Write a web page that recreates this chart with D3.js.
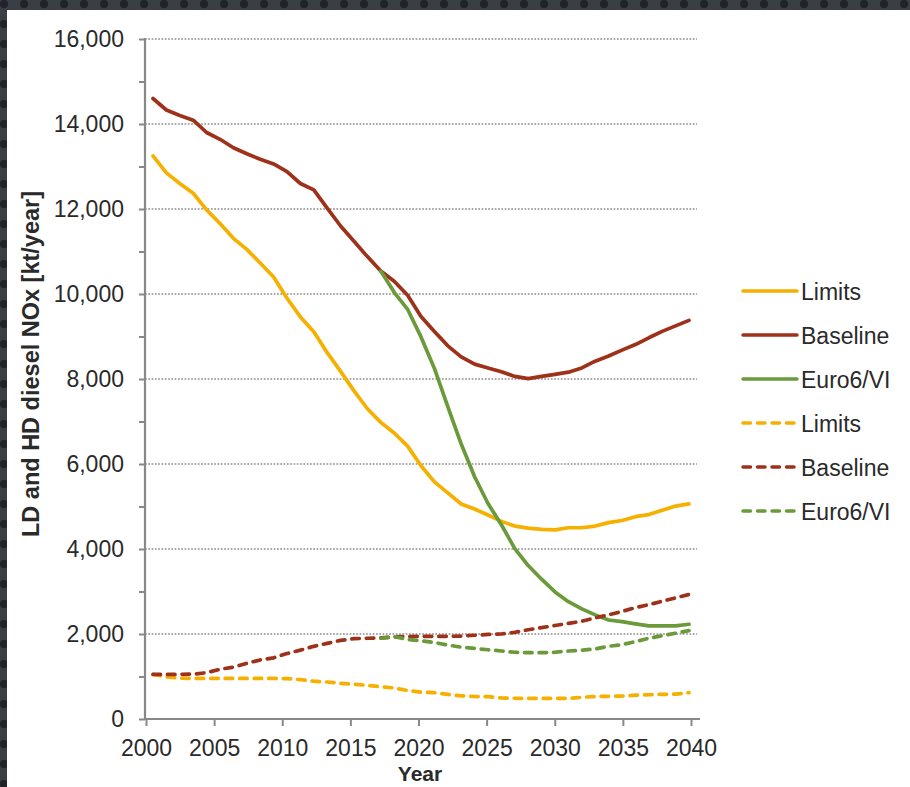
<!DOCTYPE html>
<html>
<head>
<meta charset="utf-8">
<script src="https://cdn.jsdelivr.net/npm/d3@7"></script>
<style>
  body { margin: 0; background: #fff; }
  svg { display: block; font-family: "Liberation Sans", Arial, Helvetica, sans-serif; }
</style>
</head>
<body>
<div id="chart"></div>
<script>
// Years on the category axis
var years = d3.range(2000, 2041);
var tickYears = [2000, 2005, 2010, 2015, 2020, 2025, 2030, 2035, 2040];
var yTicks = d3.range(0, 16001, 1000);

// Solid series (kt/year)
var limitsSolid = [13250, 12850, 12600, 12370, 11980, 11660, 11310, 11050, 10730, 10400,
  9900, 9460, 9110, 8620, 8180, 7720, 7300, 6980, 6730, 6420,
  5960, 5580, 5320, 5060, 4940, 4800, 4650, 4540, 4490, 4460,
  4450, 4500, 4500, 4540, 4620, 4670, 4760, 4810, 4910, 5010, 5060];
var baselineSolid = [14600, 14330, 14200, 14090, 13800, 13640, 13440, 13300, 13170, 13060,
  12880, 12600, 12450, 12020, 11600, 11240, 10880, 10540, 10300, 9970,
  9470, 9120, 8780, 8520, 8350, 8260, 8170, 8060, 8010, 8060,
  8110, 8160, 8260, 8420, 8540, 8680, 8810, 8970, 9120, 9250, 9380];
var euroSolid = [null, null, null, null, null, null, null, null, null, null,
  null, null, null, null, null, null, null, 10540, 10040, 9640,
  8990, 8250, 7350, 6470, 5700, 5070, 4570, 4010, 3610, 3290,
  2990, 2760, 2590, 2450, 2330, 2290, 2240, 2190, 2190, 2190, 2230];

// Dashed series (kt/year)
var limitsDashed = [1050, 990, 960, 955, 955, 955, 955, 955, 955, 955,
  950, 925, 890, 870, 840, 820, 790, 760, 730, 670,
  630, 620, 580, 545, 530, 525, 495, 488, 486, 486,
  486, 486, 510, 530, 533, 540, 560, 570, 580, 585, 620];
var baselineDashed = [1050, 1050, 1050, 1055, 1090, 1170, 1220, 1310, 1390, 1440,
  1540, 1620, 1710, 1780, 1850, 1890, 1900, 1910, 1930, 1940,
  1945, 1945, 1945, 1950, 1970, 1990, 2000, 2040, 2100, 2150,
  2200, 2250, 2300, 2380, 2450, 2530, 2620, 2690, 2770, 2850, 2930];
var euroDashed = [null, null, null, null, null, null, null, null, null, null,
  null, null, null, null, null, null, null, 1900, 1940, 1870,
  1840, 1800, 1740, 1690, 1660, 1630, 1600, 1570, 1560, 1560,
  1570, 1600, 1620, 1650, 1710, 1750, 1820, 1900, 1960, 2020, 2080];

var legendNames = ["Limits", "Baseline", "Euro6/VI", "Limits", "Baseline", "Euro6/VI"];

var colors = { limits: "#f5b000", baseline: "#9e3119", euro: "#6a9a3a" };

var series = [
  { name: legendNames[0], values: limitsSolid, color: colors.limits, dashed: false },
  { name: legendNames[1], values: baselineSolid, color: colors.baseline, dashed: false },
  { name: legendNames[2], values: euroSolid, color: colors.euro, dashed: false },
  { name: legendNames[3], values: limitsDashed, color: colors.limits, dashed: true },
  { name: legendNames[4], values: baselineDashed, color: colors.baseline, dashed: true },
  { name: legendNames[5], values: euroDashed, color: colors.euro, dashed: true }
];

var w = 910, h = 787;
var svg = d3.select("#chart").append("svg").attr("width", w).attr("height", h);

// dark dotted frame on top and left
var defs = svg.append("defs");
var pat = defs.append("pattern").attr("id", "dots")
  .attr("width", 20).attr("height", 20).attr("patternUnits", "userSpaceOnUse");
pat.append("rect").attr("width", 20).attr("height", 20).attr("fill", "#3a3e45");
pat.append("circle").attr("cx", 4).attr("cy", 4).attr("r", 4.2).attr("fill", "#202327");
svg.append("rect").attr("width", w).attr("height", h).attr("fill", "url(#dots)");
svg.append("rect").attr("x", 7).attr("y", 10).attr("width", w - 7).attr("height", h - 10).attr("fill", "#fff");

// scales
var x = d3.scaleLinear().domain([2000, 2040]).range([153, 689]);
var xTick = d3.scaleLinear().domain([2000, 2040]).range([146, 691]);
var y = d3.scaleLinear().domain([0, 16000]).range([719, 39]);
var plotLeft = 145, plotRight = 698;

// dotted gridlines
svg.append("g").selectAll("line")
  .data(yTicks.filter(function(d) { return d > 0 && d % 2000 === 0; }))
  .enter().append("line")
  .attr("x1", plotLeft).attr("x2", plotRight - 1)
  .attr("y1", function(d) { return y(d); }).attr("y2", function(d) { return y(d); })
  .attr("stroke", "#8c8c8c").attr("stroke-width", 1.6).attr("stroke-dasharray", "1.7,1.6");

// y axis
var yAxis = d3.axisLeft(y).tickValues(yTicks).tickSize(6).tickPadding(15)
  .tickFormat(function(d) { return d % 2000 === 0 ? d3.format(",")(d) : ""; });
var gy = svg.append("g").attr("transform", "translate(" + plotLeft + ",0)").call(yAxis);
gy.select(".domain").remove();
gy.append("line").attr("x1", 0).attr("x2", 0).attr("y1", y(16000) - 1).attr("y2", y(0) + 1)
  .attr("stroke", "#888").attr("stroke-width", 2.2);
gy.selectAll(".tick line").attr("stroke", "#888").attr("stroke-width", 2);
gy.selectAll("text").attr("font-size", "23px").attr("fill", "#2a2a2a");

// x axis
var xAxis = d3.axisBottom(xTick).tickValues(tickYears).tickSize(7).tickPadding(14)
  .tickFormat(d3.format("d"));
var gx = svg.append("g").attr("transform", "translate(0," + y(0) + ")").call(xAxis);
gx.select(".domain").remove();
gx.append("line").attr("x1", plotLeft - 1).attr("x2", plotRight + 2).attr("y1", 0).attr("y2", 0)
  .attr("stroke", "#888").attr("stroke-width", 2.2);
gx.selectAll(".tick line").attr("stroke", "#888").attr("stroke-width", 2);
gx.selectAll("text").attr("font-size", "23px").attr("fill", "#2a2a2a");

// axis titles
svg.append("text").attr("x", 420).attr("y", 781).attr("text-anchor", "middle")
  .attr("font-size", "21px").attr("font-weight", "bold").attr("fill", "#2a2a2a").text("Year");
svg.append("text").attr("transform", "translate(39,364) rotate(-90)").attr("text-anchor", "middle")
  .attr("font-size", "23.5px").attr("font-weight", "bold").attr("fill", "#2a2a2a")
  .text("LD and HD diesel NOx [kt/year]");

// lines
var line = d3.line()
  .defined(function(d) { return d != null; })
  .x(function(d, i) { return x(years[i]); })
  .y(function(d) { return y(d); });

svg.append("g").selectAll("path")
  .data(series)
  .enter().append("path")
  .attr("d", function(d) { return line(d.values); })
  .attr("fill", "none")
  .attr("stroke", function(d) { return d.color; })
  .attr("stroke-width", 3.7)
  .attr("stroke-linecap", "round")
  .attr("stroke-linejoin", "round")
  .attr("stroke-dasharray", function(d) { return d.dashed ? "7.5,7" : null; });

// legend
var legend = svg.append("g").selectAll("g")
  .data(series)
  .enter().append("g")
  .attr("transform", function(d, i) { return "translate(743," + (291 + i * 44) + ")"; });
legend.append("line").attr("x1", 0).attr("x2", 54).attr("y1", 0).attr("y2", 0)
  .attr("stroke", function(d) { return d.color; })
  .attr("stroke-width", 3.5)
  .attr("stroke-linecap", "round")
  .attr("stroke-dasharray", function(d) { return d.dashed ? "7.5,7" : null; });
legend.append("text").attr("x", 58).attr("y", 8.5)
  .attr("font-size", "23px").attr("fill", "#2a2a2a")
  .text(function(d) { return d.name; });
</script>
</body>
</html>
